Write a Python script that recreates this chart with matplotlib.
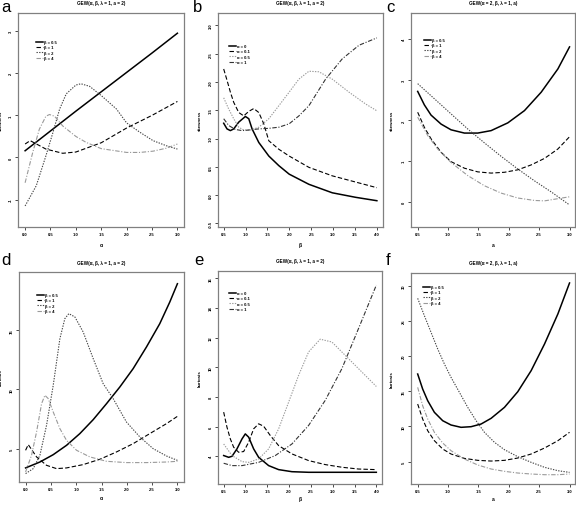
import matplotlib
matplotlib.use('Agg')
import matplotlib.pyplot as plt

plt.rcParams['font.family'] = ['Liberation Sans', 'DejaVu Sans']

W, H = 576, 506

# ---------------- Panel a: skewness vs alpha ----------------
a_lbl = ['β = 0.5', 'β = 1', 'β = 2', 'β = 4']
a_x1 = [0, 0.5, 1.0, 1.5, 2.0, 2.5, 3.0]
a_y1 = [0.16, 0.63, 1.10, 1.56, 2.02, 2.48, 2.95]
a_x2 = [0, 0.1, 0.41, 0.74, 1.0, 1.5, 2.0, 2.5, 3.0]
a_y2 = [0.32, 0.40, 0.20, 0.10, 0.13, 0.35, 0.70, 1.00, 1.33]
a_x3 = [0, 0.22, 0.41, 0.55, 0.68, 0.81, 1.0, 1.1, 1.27, 1.5, 1.8, 2.0, 2.26, 2.52, 2.78, 3.0]
a_y3 = [-1.15, -0.67, 0.04, 0.60, 1.15, 1.51, 1.72, 1.75, 1.69, 1.47, 1.15, 0.82, 0.60, 0.40, 0.28, 0.20]
a_x4 = [0, 0.15, 0.28, 0.41, 0.48, 0.58, 0.74, 1.0, 1.2, 1.5, 2.0, 2.26, 2.52, 2.78, 3.0]
a_y4 = [-0.60, 0.12, 0.67, 0.98, 1.02, 0.98, 0.75, 0.50, 0.36, 0.21, 0.12, 0.12, 0.15, 0.22, 0.32]

# ---------------- Panel b: skewness vs beta ----------------
b_lbl = ['α = 0', 'α = 0.1', 'α = 0.5', 'α = 1']
b_x1 = [0.5, 0.576, 0.653, 0.729, 0.844, 0.996, 1.073, 1.149, 1.302, 1.531, 1.76, 1.996, 2.447, 2.981, 3.515, 4.0]
b_y1 = [1.27, 1.17, 1.14, 1.17, 1.29, 1.39, 1.35, 1.17, 0.93, 0.69, 0.52, 0.37, 0.19, 0.04, -0.04, -0.10]
b_x2 = [0.5, 0.576, 0.653, 0.729, 0.844, 0.958, 1.073, 1.187, 1.302, 1.416, 1.531, 1.76, 1.996, 2.447, 2.981, 3.515, 4.0]
b_y2 = [2.23, 2.03, 1.82, 1.64, 1.46, 1.40, 1.48, 1.53, 1.46, 1.26, 0.96, 0.81, 0.69, 0.49, 0.34, 0.23, 0.13]
b_x3 = [0.5, 0.615, 0.729, 0.844, 0.958, 1.111, 1.302, 1.531, 1.76, 1.996, 2.218, 2.447, 2.676, 2.981, 3.363, 3.744, 4.0]
b_y3 = [1.72, 1.52, 1.35, 1.20, 1.15, 1.15, 1.20, 1.35, 1.58, 1.82, 2.05, 2.19, 2.18, 2.05, 1.82, 1.61, 1.49]
b_x4 = [0.5, 0.615, 0.767, 0.92, 1.073, 1.302, 1.531, 1.76, 1.996, 2.218, 2.447, 2.828, 3.21, 3.592, 4.0]
b_y4 = [1.35, 1.23, 1.16, 1.14, 1.15, 1.17, 1.18, 1.20, 1.26, 1.40, 1.58, 2.05, 2.41, 2.65, 2.78]

# ---------------- Panel c: skewness vs a ----------------
c_lbl = ['β = 0.5', 'β = 1', 'β = 2', 'β = 4']
c_x1 = [0.5, 0.61, 0.72, 0.885, 1.049, 1.269, 1.489, 1.709, 1.984, 2.258, 2.533, 2.808, 3.0]
c_y1 = [2.71, 2.38, 2.13, 1.91, 1.77, 1.69, 1.69, 1.75, 1.94, 2.24, 2.69, 3.26, 3.80]
c_x2 = [0.5, 0.61, 0.72, 0.885, 1.049, 1.269, 1.489, 1.709, 1.929, 2.148, 2.368, 2.588, 2.808, 3.0]
c_y2 = [2.20, 1.83, 1.55, 1.22, 0.99, 0.83, 0.74, 0.71, 0.73, 0.79, 0.91, 1.07, 1.30, 1.60]
c_x3 = [0.5, 0.775, 1.049, 1.324, 1.599, 1.874, 2.148, 2.423, 2.698, 3.0]
c_y3 = [2.90, 2.53, 2.16, 1.79, 1.45, 1.12, 0.81, 0.52, 0.25, -0.07]
c_x4 = [0.5, 0.665, 0.83, 1.049, 1.324, 1.599, 1.874, 2.148, 2.423, 2.588, 2.753, 2.918, 3.0]
c_y4 = [2.08, 1.63, 1.30, 0.97, 0.65, 0.40, 0.22, 0.10, 0.04, 0.03, 0.07, 0.11, 0.13]

# ---------------- Panel d: kurtosis vs alpha ----------------
d_lbl = ['β = 0.5', 'β = 1', 'β = 2', 'β = 4']
d_x1 = [0, 0.283, 0.546, 0.809, 1.072, 1.336, 1.599, 1.862, 2.125, 2.388, 2.651, 2.849, 3.0]
d_y1 = [3.37, 3.87, 4.49, 5.28, 6.27, 7.45, 8.80, 10.21, 11.76, 13.59, 15.56, 17.39, 18.94]
d_x2 = [0, 0.053, 0.217, 0.414, 0.612, 0.809, 1.138, 1.467, 1.796, 2.125, 2.454, 2.783, 3.0]
d_y2 = [4.86, 5.34, 4.30, 3.59, 3.31, 3.37, 3.65, 4.10, 4.72, 5.42, 6.27, 7.11, 7.73]
d_x3 = [0, 0.151, 0.283, 0.414, 0.546, 0.678, 0.776, 0.855, 0.974, 1.138, 1.336, 1.533, 1.730, 1.993, 2.257, 2.520, 2.783, 3.0]
d_y3 = [2.89, 3.31, 4.44, 6.97, 10.35, 14.30, 15.99, 16.41, 16.13, 14.86, 12.61, 10.49, 9.23, 7.25, 5.99, 5.00, 4.38, 4.01]
d_x4 = [0, 0.118, 0.217, 0.316, 0.382, 0.447, 0.546, 0.678, 0.809, 1.007, 1.270, 1.599, 1.993, 2.388, 2.783, 3.0]
d_y4 = [3.03, 4.44, 6.41, 8.80, 9.51, 9.23, 8.10, 6.69, 5.70, 4.86, 4.30, 3.93, 3.82, 3.82, 3.87, 3.93]

# ---------------- Panel e: kurtosis vs beta ----------------
e_lbl = ['α = 0', 'α = 0.1', 'α = 0.5', 'α = 1']
e_x1 = [0.5, 0.615, 0.691, 0.805, 0.92, 0.996, 1.073, 1.187, 1.302, 1.531, 1.76, 2.065, 2.447, 3.21, 4.0]
e_y1 = [4.05, 3.93, 4.00, 4.50, 5.17, 5.51, 5.29, 4.50, 3.93, 3.37, 3.10, 2.96, 2.92, 2.92, 2.92]
e_x2 = [0.5, 0.576, 0.653, 0.729, 0.844, 0.958, 1.073, 1.187, 1.302, 1.416, 1.569, 1.76, 2.065, 2.447, 2.828, 3.21, 3.592, 4.0]
e_y2 = [6.98, 5.96, 5.17, 4.61, 4.27, 4.32, 4.95, 5.85, 6.19, 6.03, 5.40, 4.72, 4.16, 3.71, 3.44, 3.26, 3.14, 3.10]
e_x3 = [0.5, 0.691, 0.92, 1.073, 1.302, 1.531, 1.76, 1.989, 2.218, 2.447, 2.714, 2.981, 3.287, 3.592, 4.0]
e_y3 = [4.83, 4.05, 3.64, 3.59, 3.82, 4.50, 5.85, 7.65, 9.46, 11.04, 11.90, 11.71, 10.81, 9.91, 8.71]
e_x4 = [0.5, 0.691, 0.92, 1.302, 1.684, 2.065, 2.447, 2.828, 3.21, 3.592, 4.0]
e_y4 = [3.53, 3.37, 3.37, 3.59, 4.05, 4.83, 6.08, 7.77, 9.91, 12.62, 15.55]

# ---------------- Panel f: kurtosis vs a ----------------
f_lbl = ['β = 0.5', 'β = 1', 'β = 2', 'β = 4']
f_x1 = [0.5, 0.582, 0.665, 0.775, 0.912, 1.049, 1.214, 1.379, 1.544, 1.709, 1.929, 2.148, 2.368, 2.588, 2.808, 3.0]
f_y1 = [17.45, 15.32, 13.66, 12.01, 10.82, 10.21, 9.88, 9.97, 10.35, 11.16, 12.72, 14.94, 17.93, 21.71, 25.98, 30.38]
f_x2 = [0.5, 0.582, 0.665, 0.775, 0.912, 1.049, 1.269, 1.489, 1.709, 1.929, 2.148, 2.368, 2.588, 2.808, 3.0]
f_y2 = [13.19, 11.06, 9.40, 7.98, 6.80, 6.09, 5.47, 5.19, 5.09, 5.19, 5.52, 6.09, 6.94, 7.98, 9.17]
f_x3 = [0.5, 0.61, 0.72, 0.83, 0.94, 1.049, 1.187, 1.324, 1.462, 1.599, 1.764, 1.929, 2.148, 2.368, 2.588, 2.808, 3.0]
f_y3 = [28.20, 25.74, 23.37, 21.00, 18.87, 16.98, 14.85, 12.72, 10.82, 9.17, 7.75, 6.70, 5.71, 4.91, 4.20, 3.72, 3.48]
f_x4 = [0.5, 0.582, 0.665, 0.775, 0.912, 1.049, 1.269, 1.489, 1.709, 1.929, 2.148, 2.368, 2.588, 2.808, 3.0]
f_y4 = [15.56, 12.95, 11.06, 9.17, 7.65, 6.56, 5.38, 4.53, 3.96, 3.63, 3.39, 3.25, 3.15, 3.15, 3.25]

x_ticks_alpha = [0.0, 0.5, 1.0, 1.5, 2.0, 2.5, 3.0]
x_ticks_beta = [0.5, 1.0, 1.5, 2.0, 2.5, 3.0, 3.5, 4.0]
x_ticks_a = [0.5, 1.0, 1.5, 2.0, 2.5, 3.0]
y_ticks_a = [-1, 0, 1, 2, 3]
y_ticks_b = [-0.5, 0.0, 0.5, 1.0, 1.5, 2.0, 2.5, 3.0]
y_ticks_c = [0, 1, 2, 3, 4]
y_ticks_d = [5, 10, 15]
y_ticks_e = [4, 6, 8, 10, 12, 14, 16]
y_ticks_f = [5, 10, 15, 20, 25, 30]

fig = plt.figure(figsize=(W / 100, H / 100), dpi=100)

styles = ['-', (0, (4, 2)), (0, (1.2, 1.2)), (0, (4, 1.5, 1, 1.5))]
widths = [1.1, 0.8, 0.8, 0.8]

panels = [
    dict(letter='a', box=(18, 14, 184, 228), xlim=(-0.14, 3.13), ylim=(-1.65, 3.43),
         xt=x_ticks_alpha, xfmt='%.1f', yt=y_ticks_a, yfmt='%g',
         title='GEW(α, β, λ = 1, a = 2)', xlabel='α', ylabel='skewness',
         xs=[a_x1, a_x2, a_x3, a_x4], ys=[a_y1, a_y2, a_y3, a_y4], lbl=a_lbl,
         cols=['black', 'black', '#444444', '#9a9a9a'], leg=(0.108, 0.874),
         letter_xy=(1, 0), ylx=3, xly=15),
    dict(letter='b', box=(218, 14, 383, 228), xlim=(0.37, 4.14), ylim=(-0.565, 3.22),
         xt=x_ticks_beta, xfmt='%.1f', yt=y_ticks_b, yfmt='%.1f',
         title='GEW(α, β, λ = 1, a = 2)', xlabel='β', ylabel='skewness',
         xs=[b_x1, b_x2, b_x3, b_x4], ys=[b_y1, b_y2, b_y3, b_y4], lbl=b_lbl,
         cols=['black', 'black', '#9a9a9a', '#333333'], leg=(0.067, 0.855),
         letter_xy=(193, 0), ylx=202, xly=15),
    dict(letter='c', box=(411, 14, 575, 228), xlim=(0.39, 3.09), ylim=(-0.61, 4.63),
         xt=x_ticks_a, xfmt='%.1f', yt=y_ticks_c, yfmt='%g',
         title='GEW(α = 2, β, λ = 1, a)', xlabel='a', ylabel='skewness',
         xs=[c_x1, c_x2, c_x3, c_x4], ys=[c_y1, c_y2, c_y3, c_y4], lbl=c_lbl,
         cols=['black', 'black', '#444444', '#9a9a9a'], leg=(0.079, 0.883),
         letter_xy=(386, 0), ylx=394, xly=15),
    dict(letter='d', box=(19, 273, 184, 483), xlim=(-0.13, 3.13), ylim=(2.18, 19.93),
         xt=x_ticks_alpha, xfmt='%.1f', yt=y_ticks_d, yfmt='%g',
         title='GEW(α, β, λ = 1, a = 2)', xlabel='α', ylabel='kurtosis',
         xs=[d_x1, d_x2, d_x3, d_x4], ys=[d_y1, d_y2, d_y3, d_y4], lbl=d_lbl,
         cols=['black', 'black', '#444444', '#9a9a9a'], leg=(0.109, 0.90),
         letter_xy=(1, 253), ylx=3, xly=13),
    dict(letter='e', box=(218, 272, 382, 485), xlim=(0.37, 4.13), ylim=(2.13, 16.5),
         xt=x_ticks_beta, xfmt='%.1f', yt=y_ticks_e, yfmt='%g',
         title='GEW(α, β, λ = 1, a = 2)', xlabel='β', ylabel='kurtosis',
         xs=[e_x1, e_x2, e_x3, e_x4], ys=[e_y1, e_y2, e_y3, e_y4], lbl=e_lbl,
         cols=['black', 'black', '#9a9a9a', '#333333'], leg=(0.067, 0.906),
         letter_xy=(194, 253), ylx=202, xly=12),
    dict(letter='f', box=(411, 274, 575, 485), xlim=(0.39, 3.09), ylim=(1.83, 31.8),
         xt=x_ticks_a, xfmt='%.1f', yt=y_ticks_f, yfmt='%g',
         title='GEW(α = 2, β, λ = 1, a)', xlabel='a', ylabel='kurtosis',
         xs=[f_x1, f_x2, f_x3, f_x4], ys=[f_y1, f_y2, f_y3, f_y4], lbl=f_lbl,
         cols=['black', 'black', '#444444', '#9a9a9a'], leg=(0.073, 0.943),
         letter_xy=(386, 253), ylx=394, xly=12),
]

for p in panels:
    l, t, r, b = p['box']
    ax = fig.add_axes([l / W, 1 - b / H, (r - l) / W, (b - t) / H])
    for i in range(4):
        ax.plot(p['xs'][i], p['ys'][i], color=p['cols'][i], linestyle=styles[i],
                lw=widths[i], label=p['lbl'][i])
    ax.set_xlim(*p['xlim'])
    ax.set_ylim(*p['ylim'])
    ax.set_xticks(p['xt'])
    ax.set_xticklabels([p['xfmt'] % v for v in p['xt']], fontweight='bold')
    ax.set_yticks(p['yt'])
    ax.set_yticklabels([p['yfmt'] % v for v in p['yt']], rotation=90,
                       va='center', fontweight='bold')
    ax.tick_params(labelsize=3.0, length=2, width=0.5, pad=1.5, colors='black')
    for s in ax.spines.values():
        s.set_color('#808080')
        s.set_linewidth(0.9)
    ax.set_xlabel(p['xlabel'], fontsize=3.6, fontweight='bold')
    ax.xaxis.set_label_coords(0.5, -(p['xly'] / (b - t)))
    ax.set_ylabel(p['ylabel'], fontsize=3.2, fontweight='bold')
    ax.yaxis.set_label_coords((p['ylx'] - l) / (r - l), 0.5)
    leg = ax.legend(loc='upper left', bbox_to_anchor=p['leg'], frameon=False,
                    fontsize=3.0, handlelength=1.6, handletextpad=0.4,
                    labelspacing=0.35, borderpad=0, borderaxespad=0)
    for txt in leg.get_texts():
        txt.set_fontweight('bold')
    fig.text((l + r) / 2 / W, 1 - (t - 10) / H, p['title'], ha='center', va='center',
             fontsize=3.3, fontweight='bold')
    lx, ly = p['letter_xy']
    fig.text(lx / W, 1 - ly / H, p['letter'], ha='left', va='top', fontsize=12)

fig.savefig('out.png', dpi=100)
